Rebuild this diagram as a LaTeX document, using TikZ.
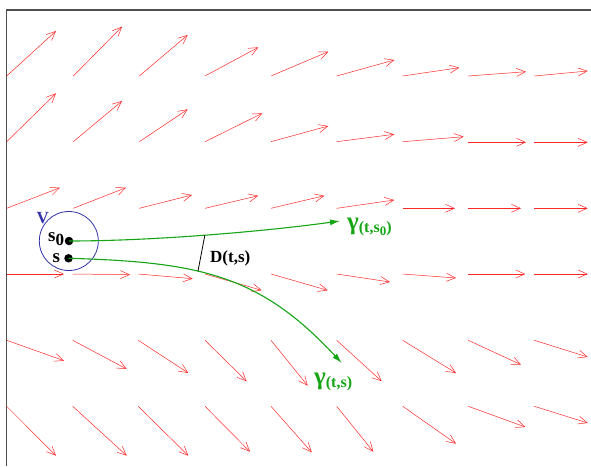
\documentclass[tikz,border=0pt]{standalone}
\usepackage{fontspec}
\setmainfont{Liberation Serif}
\usetikzlibrary{arrows.meta}
\definecolor{vblue}{RGB}{50,50,170}
\definecolor{tgreen}{RGB}{20,165,20}
\definecolor{vred}{RGB}{255,40,40}
\definecolor{framegray}{RGB}{80,80,80}
\begin{document}
\begin{tikzpicture}[x=1pt,y=-1pt,
  vec/.style={draw=vred, line width=0.5pt, -{Straight Barb[length=9pt,width=8pt,line width=0.5pt]}},
  traj/.style={draw=tgreen, line width=1.1pt, -{Latex[length=10pt,width=6pt]}},
  frameline/.style={draw=framegray, line width=1.3pt},
  dot/.style={circle, fill=black, inner sep=0pt, minimum size=8.5pt},
  lab/.style={font=\fontsize{17}{17}\selectfont\bfseries, inner sep=0pt},
  glab/.style={text=tgreen, inner sep=0pt},
  ]
\useasboundingbox (0,0) rectangle (591,466);
\draw[frameline] (591,10) -- (6.7,10) -- (6.7,466);
% vector field
\foreach \tx/\ty/\hx/\hy in {
  6.7/76/56/31, 73.3/76/122/26.7, 139.3/76/187.7/35, 205/76/258.3/47.3, 271/76/328.3/51.7,
  336.7/76/394.3/60, 402.7/76/459.3/67.7, 468.3/76/526/71.7, 534.3/76/587.7/71,
  6.7/141.7/56/93.3, 73.3/141.7/122/101, 139.3/141.7/187.7/109.3, 205/141.7/262.3/113.3,
  271/141.7/328.3/126, 336.7/141.7/394.3/134.3, 402.7/141.7/463.7/136.7,
  468.3/142.3/526/142.3, 534.3/142.3/587.7/142.3,
  6.7/208.3/60/187.7, 73.3/208.3/126/187.7, 139.3/208.3/192/195, 205/208.3/258.3/195.7,
  271/208.3/324.3/195.7, 336.7/208.3/394.3/200, 402.7/208.3/455/208.3,
  468.3/208.3/521/208.3, 534.3/208.3/587.7/208.3,
  6.7/274/64/274, 72.7/274/130/274.7, 138.3/274/192.7/278.7, 205/274/261.7/290.3,
  271/274/327.7/290.3, 336.7/274/390/282, 402.7/274/456/278, 468.3/274/525.3/274,
  534.3/274/587.7/274,
  6.7/340.3/64/360.7, 72.7/340.3/126.7/369, 138.3/340.3/188.3/373, 205/340.3/246.7/381.3,
  271/340.3/307.7/385.7, 336.7/340.3/381.7/381.3, 402.7/340.3/456/373,
  468.3/340.3/521/364.7, 534.3/340.3/587.7/357,
  6.7/406.3/56/455.7, 72.7/406.3/126.7/455.7, 138.3/406.3/188.3/455.7, 205/406.3/250/451.7,
  271/406.3/311.7/452.3, 336.7/406.3/373.3/451.7, 402.7/406.3/456/443.7,
  468.3/406.3/525.3/427, 534.3/406.3/587.7/423}
  \draw[vec] (\tx,\ty) -- (\hx,\hy);
% neighbourhood V
\node[circle, draw=vblue, line width=0.8pt, minimum size=59pt, inner sep=0pt] (V) at (68.8,241) {};
\node[lab, text=vblue, anchor=base west] (vlab) at (36.5,223.3) {V};
% start points
\node[dot] (s0) at (69,241) {};
\node[dot] (s) at (68.5,258.3) {};
\node[lab, anchor=base west, font=\fontsize{19}{19}\selectfont\bfseries] (s0lab) at (48,241.5) {s\raisebox{-4pt}{\fontsize{17}{17}\selectfont 0}};
\node[lab, anchor=base west, font=\fontsize{19}{19}\selectfont\bfseries] (slab) at (52.5,262) {s};
% trajectories
\draw[traj] (s0.center) .. controls (150,241) and (260,232) .. coordinate[pos=0.5] (d0) (340,221) coordinate (g0end);
\draw[traj] (s.center) .. controls (200,262) and (260,275) .. coordinate[pos=0.4] (d1) (341.7,363) coordinate (g1end);
% distance
\draw[black, line width=0.8pt] (d0) -- (d1);
\node[lab, anchor=base west] (dlab) at (210,262.5) {D(t,s)};
% trajectory labels
\node[glab, anchor=base west] (g0lab) at (347,229) {\fontsize{25}{25}\selectfont\bfseries γ\raisebox{-3pt}{\fontsize{16}{16}\selectfont\bfseries(t,s\raisebox{-3pt}{\fontsize{13}{13}\selectfont 0})}};
\node[glab, anchor=base west] (g1lab) at (314,384) {\fontsize{25}{25}\selectfont\bfseries γ\raisebox{-3pt}{\fontsize{16}{16}\selectfont\bfseries(t,s)}};
\end{tikzpicture}
\end{document}
